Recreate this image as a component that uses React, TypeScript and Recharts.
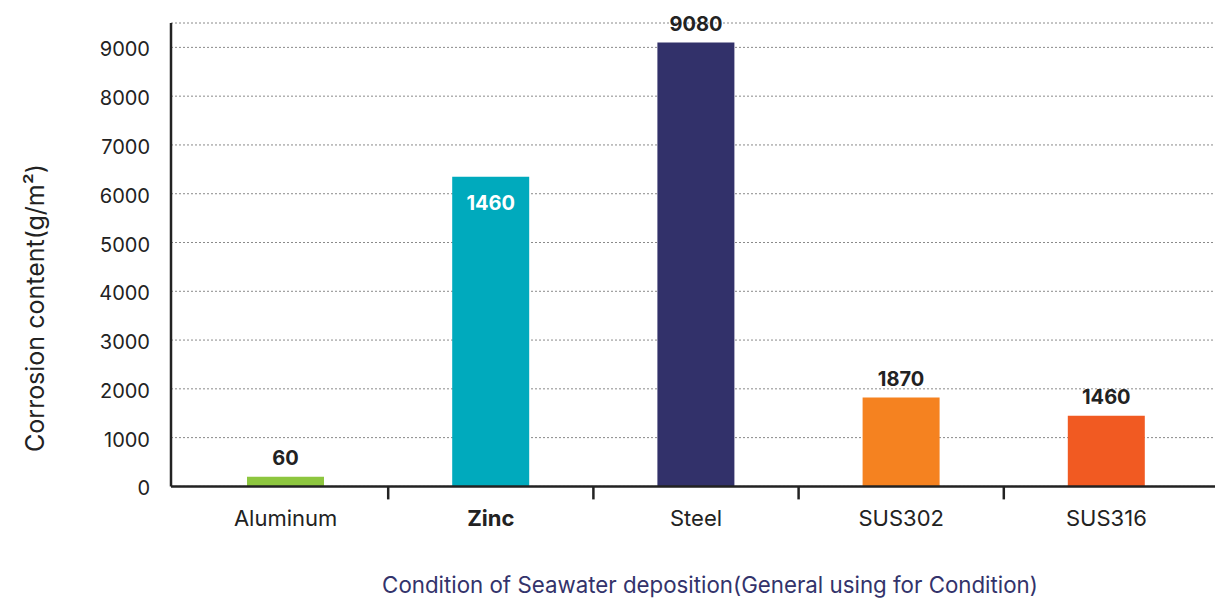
import React from "react";
import { BarChart, Bar, XAxis, YAxis, CartesianGrid, Cell, LabelList, Label } from "recharts";

const categories = ["Aluminum", "Zinc", "Steel", "SUS302", "SUS316"];
const barHeights = [200, 6350, 9100, 1820, 1450];
const valueLabels = ["60", "1460", "9080", "1870", "1460"];
const yTicks = [0, 1000, 2000, 3000, 4000, 5000, 6000, 7000, 8000, 9000];

const barColors = ["#8DC63F", "#00AABD", "#32316A", "#F58220", "#F15A22"];
const boldCategories = ["Zinc"];
const insideLabelCategories = ["Zinc"];

const FONT = "Inter, 'Noto Sans', Arial, sans-serif";
const W = 1215;
const H = 599;

const data = categories.map((name, i) => ({ name, value: barHeights[i], label: valueLabels[i] }));

const XTick = (props: any) => {
  const { x, y, payload, index } = props;
  const half = payload?.offset ?? 0;
  const bold = boldCategories.includes(payload.value);
  return (
    <g>
      <text
        x={x}
        y={y + 39.5}
        textAnchor="middle"
        fontFamily={FONT}
        fontSize={22}
        fontWeight={bold ? 700 : 400}
        fill="#222"
      >
        {payload.value}
      </text>
      {index < categories.length - 1 && (
        <line x1={x + half} x2={x + half} y1={y} y2={y + 13} stroke="#222" strokeWidth={2.5} />
      )}
    </g>
  );
};

const YTick = (props: any) => {
  const { x, y, payload } = props;
  return (
    <text x={x} y={y + 9} textAnchor="end" fontFamily={FONT} fontSize={20} fill="#222">
      {payload.value}
    </text>
  );
};

const BarValueLabel = (props: any) => {
  const { x, y, width, index } = props;
  const name = categories[index];
  const inside = insideLabelCategories.includes(name);
  return (
    <text
      x={x + width / 2}
      y={inside ? y + 33 : y - 12}
      textAnchor="middle"
      fontFamily={FONT}
      fontSize={20}
      fontWeight={700}
      fill={inside ? "#ffffff" : "#222"}
    >
      {valueLabels[index]}
    </text>
  );
};

export default function App() {
  return (
    <div style={{ position: "absolute", left: 0, top: 0, width: W, height: H, background: "#fff", overflow: "hidden" }}>
      <BarChart width={W} height={H} data={data} margin={{ top: 23, right: 0, bottom: 0, left: 0 }}>
        <CartesianGrid vertical={false} stroke="#8a8a8a" strokeDasharray="2 2" strokeWidth={1} />
        <XAxis
          dataKey="name"
          height={112.6}
          padding={{ left: 12, right: 6 }}
          axisLine={{ stroke: "#222", strokeWidth: 2.5 }}
          tickLine={false}
          tickSize={0}
          tickMargin={0}
          interval={0}
          tick={<XTick />}
        >
          <Label
            content={() => (
              <text x={710} y={593} textAnchor="middle" fontFamily={FONT} fontSize={22.3} fill="#33336B">
                Condition of Seawater deposition(General using for Condition)
              </text>
            )}
          />
        </XAxis>
        <YAxis
          width={171}
          domain={[0, 9500]}
          ticks={yTicks}
          interval={0}
          axisLine={{ stroke: "#222", strokeWidth: 2.5 }}
          tickLine={false}
          tickSize={0}
          tickMargin={21}
          tick={<YTick />}
        >
          <Label
            content={() => (
              <text
                x={44}
                y={308}
                transform="rotate(-90 44 308)"
                textAnchor="middle"
                fontFamily={FONT}
                fontSize={25}
                fill="#222"
              >
                Corrosion content(g/m²)
              </text>
            )}
          />
        </YAxis>
        <Bar dataKey="value" barSize={77} isAnimationActive={false}>
          {data.map((d, i) => (
            <Cell key={d.name} fill={barColors[i]} />
          ))}
          <LabelList dataKey="label" content={<BarValueLabel />} />
        </Bar>
      </BarChart>
    </div>
  );
}
